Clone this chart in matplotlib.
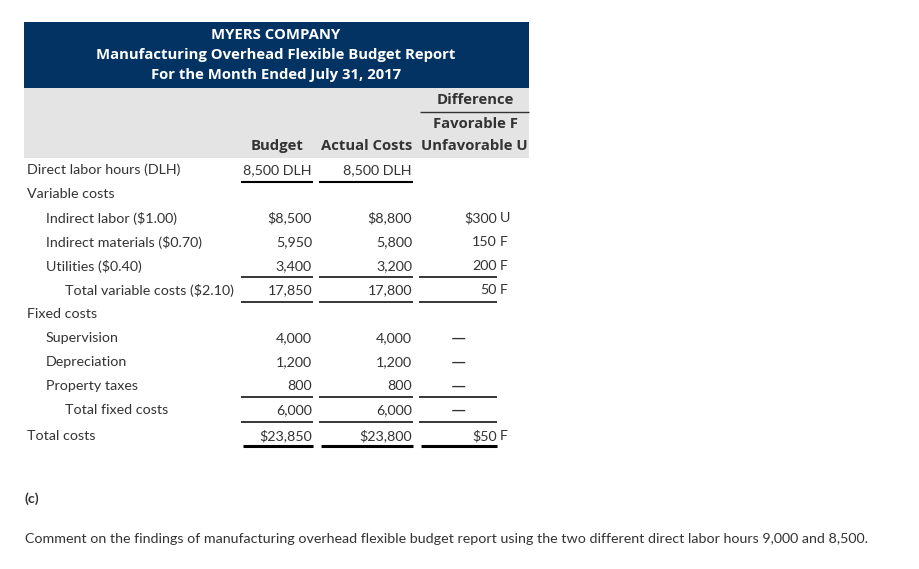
import matplotlib.pyplot as plt
from matplotlib.patches import Rectangle

plt.rcParams["text.parse_math"] = False

title_lines = [
    "MYERS COMPANY",
    "Manufacturing Overhead Flexible Budget Report",
    "For the Month Ended July 31, 2017",
]
col_heads = ["Budget", "Actual Costs"]
diff_heads = ["Difference", "Favorable F", "Unfavorable U"]

row_labels = [
    "Direct labor hours (DLH)",
    "Variable costs",
    "Indirect labor ($1.00)",
    "Indirect materials ($0.70)",
    "Utilities ($0.40)",
    "Total variable costs ($2.10)",
    "Fixed costs",
    "Supervision",
    "Depreciation",
    "Property taxes",
    "Total fixed costs",
    "Total costs",
]
row_levels = [0, 0, 1, 1, 1, 2, 0, 1, 1, 1, 2, 0]
budget = [8500, None, 8500, 5950, 3400, 17850, None, 4000, 1200, 800, 6000, 23850]
actual = [8500, None, 8800, 5800, 3200, 17800, None, 4000, 1200, 800, 6000, 23800]
difference = [None, None, 300, 150, 200, 50, None, 0, 0, 0, 0, 50]
diff_flag = ["", "", "U", "F", "F", "F", "", "", "", "", "", "F"]
dollar_rows = [2, 11]
unit_rows = [0]  # DLH row

part_label = "(c)"
question = ("Comment on the findings of manufacturing overhead flexible budget report "
            "using the two different direct labor hours 9,000 and 8,500.")

navy = "#033363"
band = "#e4e4e4"
ink = "#333333"
body_font = "Lato"
head_font = "Open Sans"
fs = 10.3
hfs = 10.7

fig = plt.figure(figsize=(9.2, 5.69), dpi=100)
ax = fig.add_axes([0, 0, 1, 1])
ax.set_xlim(0, 920)
ax.set_ylim(569, 0)
ax.axis("off")

# header blocks
ax.add_patch(Rectangle((24, 22), 505, 66, color=navy, lw=0))
ax.add_patch(Rectangle((24, 88), 505, 70, color=band, lw=0))

for i, t in enumerate(title_lines):
    ax.text(276, 35 + i * 20, t, ha="center", va="center", color="white",
            fontsize=hfs, fontweight="bold", family=head_font)

x_budget, x_actual, x_diff = 312, 412, 497
ax.text(x_budget - 8, 146, col_heads[0], ha="right", va="center", color=ink,
        fontsize=hfs, fontweight="bold", family=head_font)
ax.text(x_actual, 146, col_heads[1], ha="right", va="center", color=ink,
        fontsize=hfs, fontweight="bold", family=head_font)
ax.text(475, 100, diff_heads[0], ha="center", va="center", color=ink,
        fontsize=hfs, fontweight="bold", family=head_font)
ax.hlines(112, 420, 529, color=ink, lw=1)
ax.text(475, 124, diff_heads[1], ha="center", va="center", color=ink,
        fontsize=hfs, fontweight="bold", family=head_font)
ax.text(528, 146, diff_heads[2], ha="right", va="center", color=ink,
        fontsize=hfs, fontweight="bold", family=head_font)

row_y = [170, 194, 218, 242, 266, 290, 314, 338, 362, 386, 410, 436]
indent = {0: 27, 1: 46, 2: 65}


def fmt(v, row):
    if v is None:
        return ""
    s = f"{v:,}"
    if row in dollar_rows:
        s = "$" + s
    if row in unit_rows:
        s = s + " DLH"
    return s


for i, lab in enumerate(row_labels):
    y = row_y[i]
    ax.text(indent[row_levels[i]], y, lab, ha="left", va="center", color=ink,
            fontsize=fs, family=body_font)
    ax.text(x_budget, y, fmt(budget[i], i), ha="right", va="center", color=ink,
            fontsize=fs, family=body_font)
    ax.text(x_actual, y, fmt(actual[i], i), ha="right", va="center", color=ink,
            fontsize=fs, family=body_font)
    d = difference[i]
    if d is None:
        continue
    if d == 0:
        ax.text(459, y, "\u2014", ha="center", va="center", color=ink,
                fontsize=14, family=body_font)
    else:
        ax.text(x_diff, y, fmt(d, i), ha="right", va="center", color=ink,
                fontsize=fs, family=body_font)
        ax.text(x_diff + 3, y, diff_flag[i], ha="left", va="center", color=ink,
                fontsize=fs, family=body_font)

# underlines
spans = [(241, 313), (319, 413), (419, 497)]
ax.hlines(182, *spans[0], color="black", lw=1.5)
ax.hlines(182, *spans[1], color="black", lw=1.5)
for y in [277, 302, 397, 422]:
    for a, b in spans:
        ax.hlines(y, a, b, color="black", lw=1.1)
for a, b in spans:
    ax.hlines(446, a + 2, b, color="black", lw=2.2)

ax.text(25, 499, part_label, ha="left", va="center", color=ink,
        fontsize=fs, fontweight="bold", family=body_font)
ax.text(25, 539, question, ha="left", va="center", color=ink,
        fontsize=10.3, family=body_font)

fig.savefig("out.png", dpi=100)
